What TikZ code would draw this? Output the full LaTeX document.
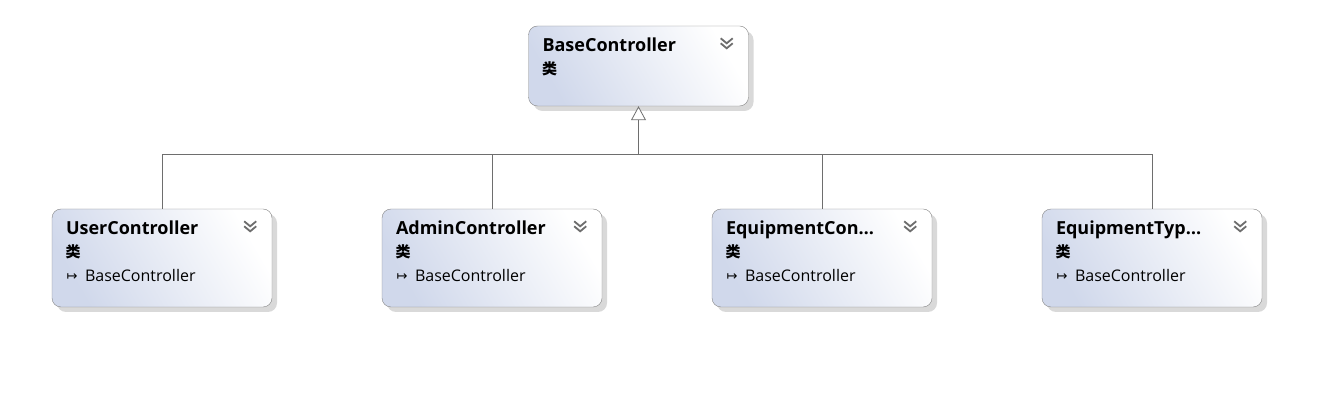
\documentclass[tikz,border=0pt]{standalone}
\usepackage{fontspec}
\setmainfont{Open Sans}
\newfontfamily\cjk{Noto Sans CJK SC}
\newfontfamily\symf{DejaVu Sans}
\usetikzlibrary{arrows.meta,calc,shadows}
\definecolor{edgegray}{HTML}{858585}
\definecolor{boxblue}{HTML}{D0D8EB}
\definecolor{chevgray}{HTML}{6E6E6E}
\tikzset{cls/.style={draw=edgegray, rounded corners=9pt, minimum width=220pt, minimum height=98pt, inner sep=0pt,
    top color=white, bottom color=boxblue, shading angle=-60,
    drop shadow={shadow xshift=5pt, shadow yshift=-5pt, fill=black!15, opacity=1}},
  ttl/.style={inner sep=0pt, anchor=base west, font=\bfseries\fontsize{18}{20}\selectfont},
  kind/.style={inner sep=0pt, anchor=base west, font=\cjk\bfseries\fontsize{15}{16}\selectfont},
  base/.style={inner sep=0pt, anchor=base west, font=\fontsize{16}{18}\selectfont},
  wire/.style={draw=chevgray, line width=0.8pt},
  inh/.style={wire, -{Triangle[open, length=14pt, width=15pt, fill=white]}}}
% double chevron in the top right corner of a box
\newcommand\chev[1]{%
  \foreach \dy in {0,5}
    \draw[chevgray, line width=1.8pt] ($(#1.north east)+(-28,12.5+\dy)$) -- ++(6,5) -- ++(6,-5);}

\begin{document}
\begin{tikzpicture}[x=1pt,y=-1pt]
  \useasboundingbox (0,0) rectangle (1344,419);
  \node[cls, minimum height=80pt] (base) at (638.5,66) {};
  \node[ttl] (baset) at ($(base.north west)+(14,26)$) {BaseController};
  \node[kind] (basek) at ($(base.north west)+(13.5,48.5)$) {类};
  \chev{base}

  \node[cls] (user) at (162,258) {};
  \node[cls] (admin) at (492,258) {};
  \node[cls] (equip) at (822,258) {};
  \node[cls] (etype) at (1152,258) {};

  \foreach \n/\t in {user/UserController, admin/AdminController, equip/EquipmentCon…, etype/EquipmentTyp…} {
    \node[ttl] (\n t) at ($(\n.north west)+(14,26)$) {\t};
    \node[kind] (\n k) at ($(\n.north west)+(13.5,48.5)$) {类};
    \node[base] (\n b) at ($(\n.north west)+(33,73)$) {BaseController};
    \node[inner sep=0pt, anchor=base west, font=\symf\fontsize{13}{14}\selectfont] (\n a) at ($(\n.north west)+(14.5,71.5)$) {↦};
    \chev{\n}
  }

  \coordinate (bus) at (638.5,154);
  \foreach \n in {user,admin,equip,etype}
    \draw[wire] (\n.north) |- (bus);
  \draw[inh] (bus) -- (base.south);
\end{tikzpicture}
\end{document}
